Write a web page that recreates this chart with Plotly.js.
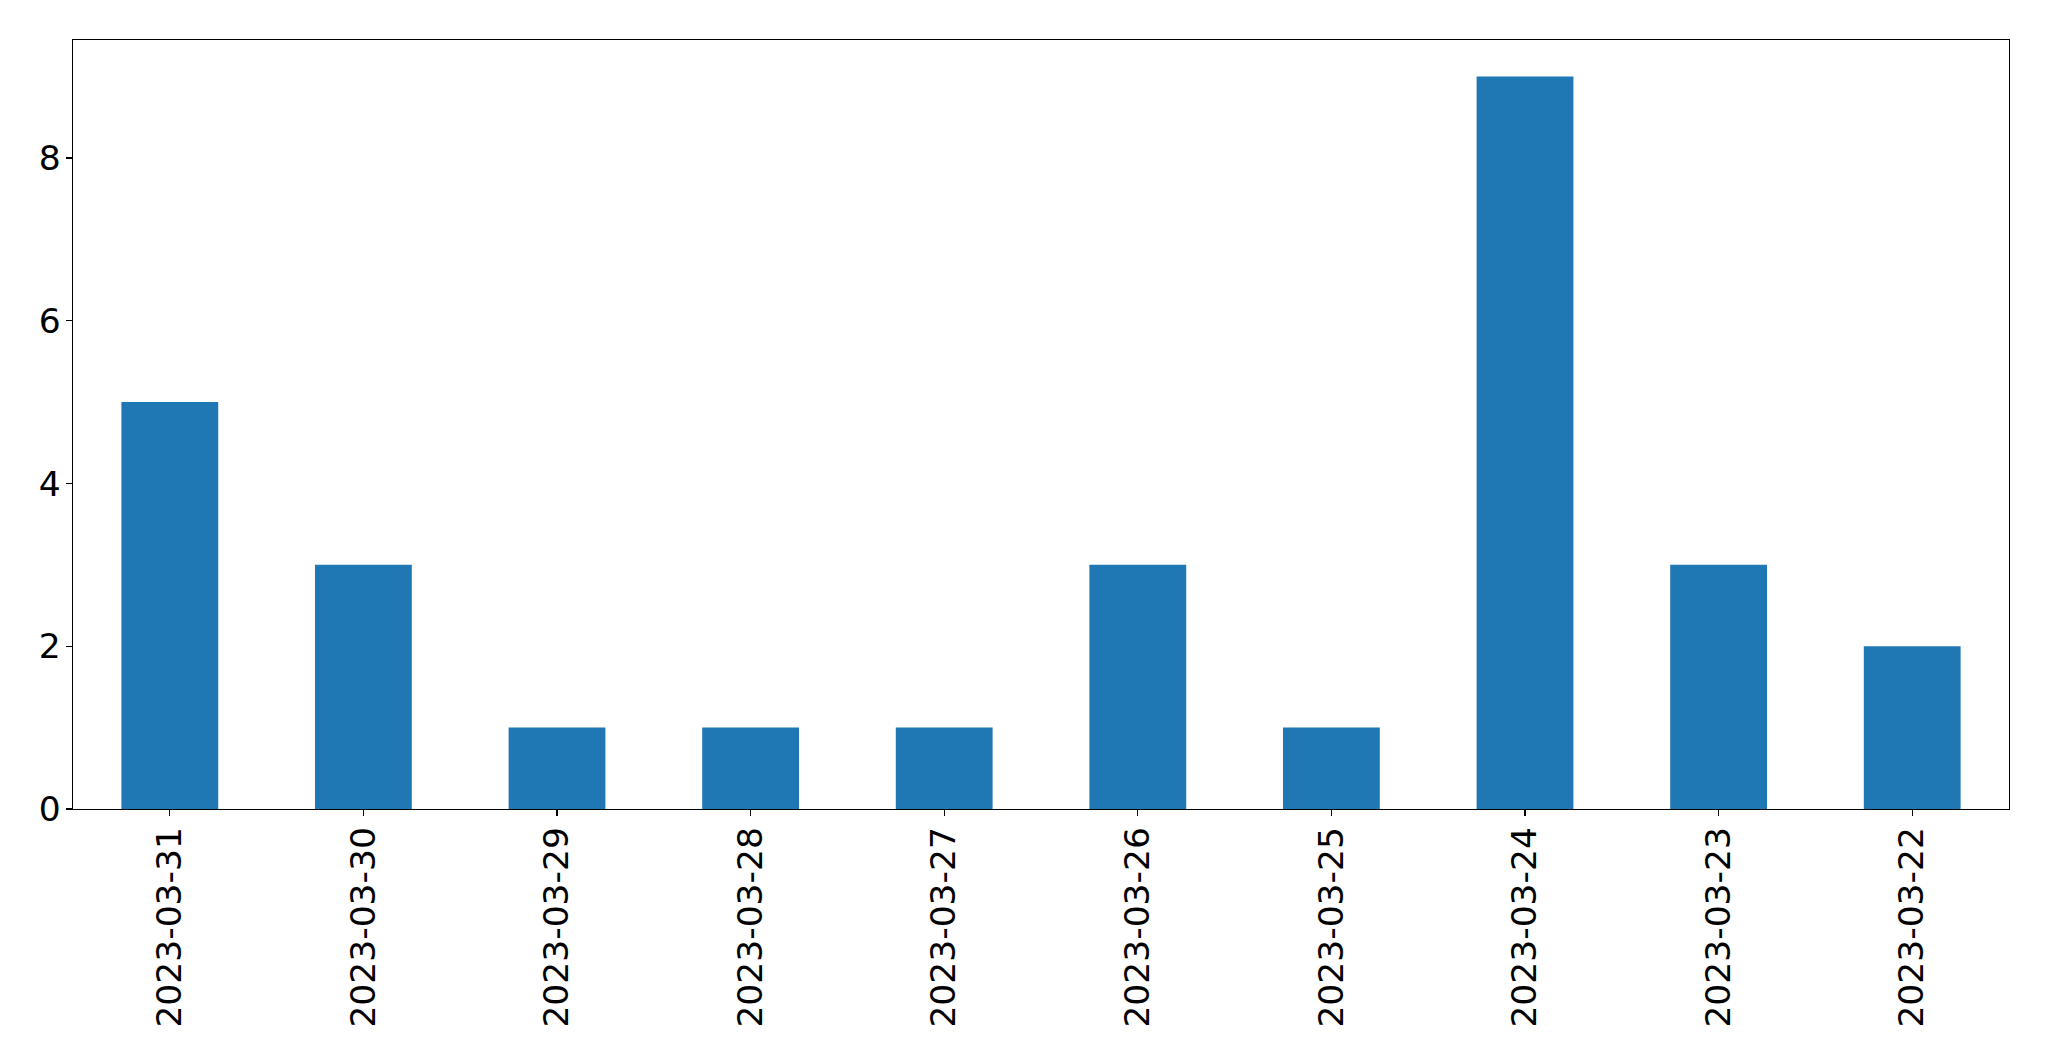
<!DOCTYPE html>
<html>
<head>
<meta charset="utf-8">
<script src="https://cdn.plot.ly/plotly-3.0.1.min.js"></script>
<style>html,body{margin:0;padding:0;background:#fff;}#chart{width:2049px;height:1061px;}</style>
</head>
<body>
<div id="chart"></div>
<script>
const categories = ["2023-03-31","2023-03-30","2023-03-29","2023-03-28","2023-03-27","2023-03-26","2023-03-25","2023-03-24","2023-03-23","2023-03-22"];
const counts = [5,3,1,1,1,3,1,9,3,2];
const yTicks = [0,2,4,6,8];

const trace = {
  type: 'bar',
  x: categories,
  y: counts,
  width: 0.5,
  marker: {color: '#1f77b4', line: {width: 0}},
  hoverinfo: 'x+y'
};

const axisCommon = {
  showline: true, linecolor: '#000', linewidth: 1.3, mirror: true,
  ticks: 'outside', ticklen: 6, tickwidth: 1.3, tickcolor: '#000',
  showgrid: false, zeroline: false,
  tickfont: {family: 'DejaVu Sans', size: 34.5, color: '#000'}
};

const layout = {
  width: 2049, height: 1061,
  margin: {l: 72.5, r: 39.5, t: 39.5, b: 252},
  paper_bgcolor: '#fff', plot_bgcolor: '#fff',
  showlegend: false,
  bargap: 0.5,
  xaxis: Object.assign({}, axisCommon, {
    type: 'category', categoryorder: 'array', categoryarray: categories,
    range: [-0.5, categories.length - 0.5], tickangle: -90, ticklabelstandoff: -3
  }),
  yaxis: Object.assign({}, axisCommon, {
    range: [0, 9.45], tickvals: yTicks, ticktext: yTicks.map(String), ticklabelstandoff: -2
  })
};

Plotly.newPlot('chart', [trace], layout, {displayModeBar: false, staticPlot: true});
</script>
</body>
</html>
